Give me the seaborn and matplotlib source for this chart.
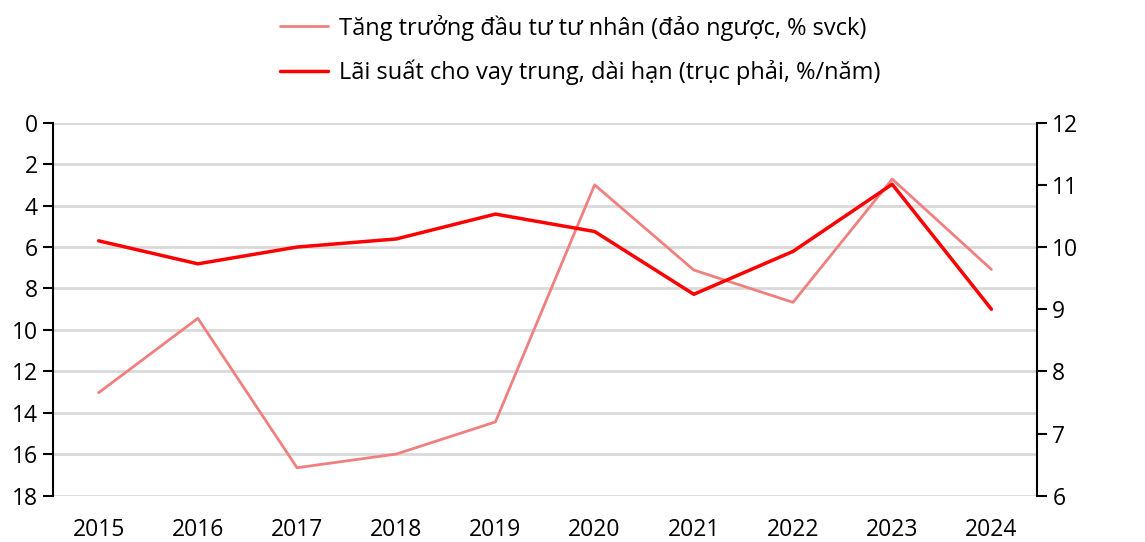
import pandas as pd
import seaborn as sns
import matplotlib.pyplot as plt

# data
years = ["2015", "2016", "2017", "2018", "2019", "2020", "2021", "2022", "2023", "2024"]
invest_growth = [13.03, 9.44, 16.65, 15.99, 14.44, 3.0, 7.11, 8.67, 2.72, 7.08]  # left axis, inverted
lending_rate = [10.10, 9.73, 10.0, 10.13, 10.53, 10.25, 9.24, 9.93, 11.01, 9.0]  # right axis

label_invest = "Tăng trưởng đầu tư tư nhân (đảo ngược, % svck)"
label_rate = "Lãi suất cho vay trung, dài hạn (trục phải, %/năm)"

df = pd.DataFrame({"year": years, "invest": invest_growth, "rate": lending_rate})

sns.set_theme(style="white")
plt.rcParams["font.family"] = ["Open Sans", "DejaVu Sans"]
plt.rcParams["text.color"] = "black"

fig = plt.figure(figsize=(11.45, 5.42), dpi=100)
ax = fig.add_axes([0.0463, 0.0854, 0.8594, 0.6882])
ax2 = ax.twinx()

sns.lineplot(data=df, x="year", y="invest", ax=ax, color="#F08080", linewidth=2, label=label_invest, legend=False)
sns.lineplot(data=df, x="year", y="rate", ax=ax2, color="#FF0000", linewidth=2.5, label=label_rate, legend=False)

ax.set_ylim(18, 0)
ax.set_yticks(range(0, 19, 2))
ax2.set_ylim(6, 12)
ax2.set_yticks(range(6, 13))
ax.set_xlim(-0.46, 9.46)

ax.grid(axis="y", color="#d9d9d9", linewidth=2)
ax.set_axisbelow(True)
ax.set_xlabel("")
ax.set_ylabel("")
ax2.set_ylabel("")

for a in (ax, ax2):
    for s in ("top", "bottom"):
        a.spines[s].set_visible(False)
ax.spines["right"].set_visible(False)
ax2.spines["left"].set_visible(False)
ax.spines["left"].set_color("black")
ax2.spines["right"].set_color("black")
ax.spines["left"].set_linewidth(1.5)
ax2.spines["right"].set_linewidth(1.5)

ax.tick_params(axis="y", which="both", left=True, direction="out", length=7, width=1.5, labelsize=16.5, pad=4, colors="black")
ax2.tick_params(axis="y", which="both", right=True, direction="out", length=7, width=1.5, labelsize=16.5, pad=4, colors="black")
ax.tick_params(axis="x", bottom=False, labelsize=16.5, pad=10, colors="black")

h1, l1 = ax.get_legend_handles_labels()
h2, l2 = ax2.get_legend_handles_labels()
leg = fig.legend(h1 + h2, l1 + l2, loc="upper center", bbox_to_anchor=(0.507, 1.012), ncol=1,
                 frameon=False, fontsize=17, handlelength=2.0, handletextpad=0.5, labelspacing=0.8)
for t in leg.get_texts():
    t.set_color("black")

fig.savefig("out.png", dpi=100)
